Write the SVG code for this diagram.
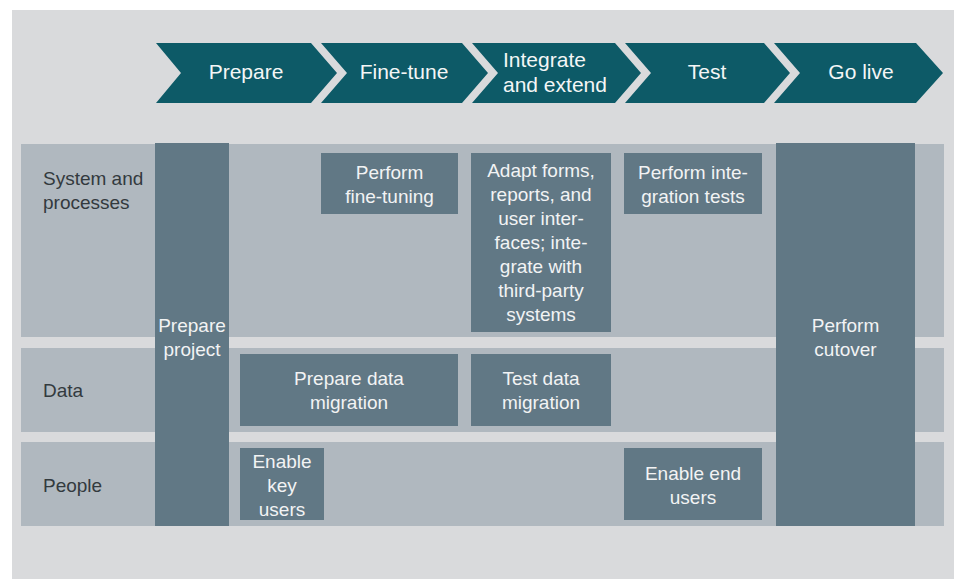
<svg xmlns="http://www.w3.org/2000/svg" width="957" height="579" viewBox="0 0 957 579">
<style>
.bg{fill:#d9dadc}
.chev{fill:#0d5a67}
.lane{fill:#b0b8bf}
.box{fill:#617885}
.ct{font-family:"Liberation Sans",Arial,sans-serif;font-size:21px;fill:#f4f6f6;text-anchor:middle}
.bt{font-family:"Liberation Sans",Arial,sans-serif;font-size:19px;fill:#f2f3f4;text-anchor:middle}
.lt{font-family:"Liberation Sans",Arial,sans-serif;font-size:19px;fill:#333a3e}
</style>
<rect x="0" y="0" width="957" height="579" fill="#ffffff"/>
<rect class="bg" x="12" y="10" width="942" height="569"/>

<g id="lanes">
  <g id="lane-system">
    <rect class="lane" x="21" y="144" width="923" height="193"/>
    <text class="lt" x="43" y="185">System and</text>
    <text class="lt" x="43" y="209">processes</text>
  </g>
  <g id="lane-data">
    <rect class="lane" x="21" y="348" width="923" height="84"/>
    <text class="lt" x="43" y="397">Data</text>
  </g>
  <g id="lane-people">
    <rect class="lane" x="21" y="442" width="923" height="84"/>
    <text class="lt" x="43" y="492">People</text>
  </g>
</g>

<g id="phases">
  <g id="phase-prepare">
    <polygon class="chev" points="156,43 311,43 337,73 311,103 156,103 181,73"/>
    <text class="ct" x="246" y="79">Prepare</text>
  </g>
  <g id="phase-finetune">
    <polygon class="chev" points="321,43 462,43 488,73 462,103 321,103 347,73"/>
    <text class="ct" x="404" y="79">Fine-tune</text>
  </g>
  <g id="phase-integrate">
    <polygon class="chev" points="472,43 615,43 641,73 615,103 472,103 498,73"/>
    <text class="ct" x="503" y="67" style="text-anchor:start">Integrate</text>
    <text class="ct" x="503" y="92" style="text-anchor:start">and extend</text>
  </g>
  <g id="phase-test">
    <polygon class="chev" points="625,43 764,43 790,73 764,103 625,103 651,73"/>
    <text class="ct" x="707" y="79">Test</text>
  </g>
  <g id="phase-golive">
    <polygon class="chev" points="774,43 916,43 943,73 916,103 774,103 800,73"/>
    <text class="ct" x="861" y="79">Go live</text>
  </g>
</g>

<g id="prepare-project">
  <rect class="box" x="155" y="143" width="74" height="383"/>
  <text class="bt" x="192" y="332">Prepare</text>
  <text class="bt" x="192" y="356">project</text>
</g>
<g id="perform-cutover">
  <rect class="box" x="776" y="143" width="139" height="383"/>
  <text class="bt" x="845.5" y="332">Perform</text>
  <text class="bt" x="845.5" y="356">cutover</text>
</g>
<g id="perform-finetuning">
  <rect class="box" x="321" y="153" width="137" height="61"/>
  <text class="bt" x="389.5" y="179">Perform</text>
  <text class="bt" x="389.5" y="203">fine-tuning</text>
</g>
<g id="adapt-forms">
  <rect class="box" x="471" y="153" width="140" height="179"/>
  <text class="bt" x="541" y="177">Adapt forms,</text>
  <text class="bt" x="541" y="201">reports, and</text>
  <text class="bt" x="541" y="225">user inter-</text>
  <text class="bt" x="541" y="249">faces; inte-</text>
  <text class="bt" x="541" y="273">grate with</text>
  <text class="bt" x="541" y="297">third-party</text>
  <text class="bt" x="541" y="321">systems</text>
</g>
<g id="integration-tests">
  <rect class="box" x="624" y="153" width="138" height="61"/>
  <text class="bt" x="693" y="179">Perform inte-</text>
  <text class="bt" x="693" y="203">gration tests</text>
</g>
<g id="prepare-data-migration">
  <rect class="box" x="240" y="354" width="218" height="72"/>
  <text class="bt" x="349" y="385">Prepare data</text>
  <text class="bt" x="349" y="409">migration</text>
</g>
<g id="test-data-migration">
  <rect class="box" x="471" y="354" width="140" height="72"/>
  <text class="bt" x="541" y="385">Test data</text>
  <text class="bt" x="541" y="409">migration</text>
</g>
<g id="enable-key-users">
  <rect class="box" x="240" y="448" width="84" height="72"/>
  <text class="bt" x="282" y="468">Enable</text>
  <text class="bt" x="282" y="492">key</text>
  <text class="bt" x="282" y="516">users</text>
</g>
<g id="enable-end-users">
  <rect class="box" x="624" y="448" width="138" height="72"/>
  <text class="bt" x="693" y="480">Enable end</text>
  <text class="bt" x="693" y="504">users</text>
</g>
<g id="connectors"></g>
</svg>
